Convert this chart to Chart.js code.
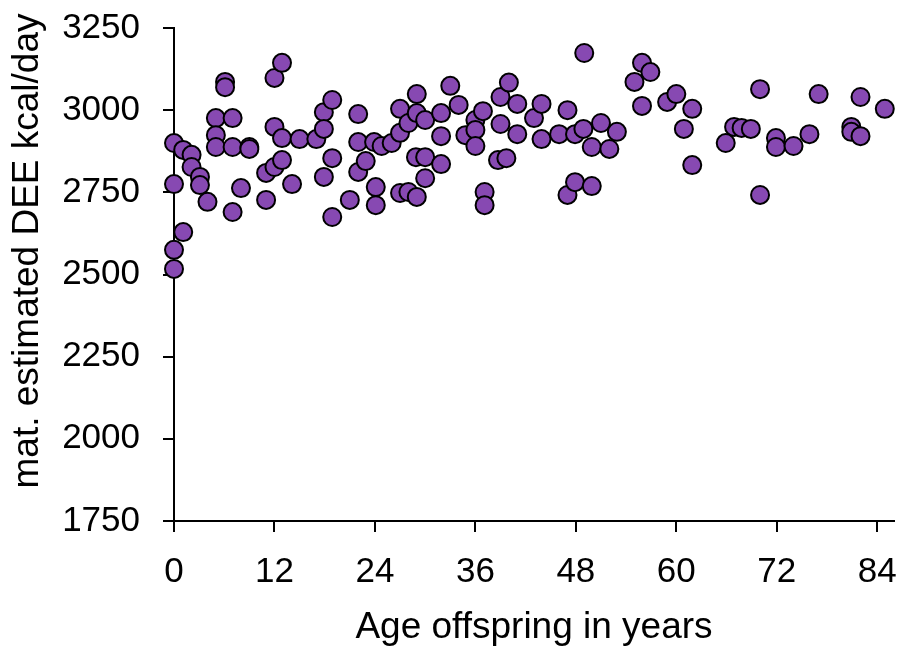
<!DOCTYPE html>
<html>
<head>
<meta charset="utf-8">
<script src="https://cdn.jsdelivr.net/npm/chart.js@4.4.1/dist/chart.umd.min.js"></script>
<style>
  html, body { margin: 0; padding: 0; background: #fff; }
  #wrap { width: 905px; height: 646px; }
</style>
</head>
<body>
<div id="wrap"><canvas id="chart-dee"></canvas></div>
<script>
// offspring age (years) and maternal estimated DEE (kcal/day)
const ageYears = [
    0, 0, 0, 0, 1.1, 1.1, 2.1, 2.1, 3.1, 3.1, 4.0, 5.0, 5.0, 5.0, 6.1, 6.1,
    7.0, 7.0, 7.0, 8.0, 9.0, 9.0, 11.0, 11.0, 12.0, 12.0, 12.0, 12.9, 12.9, 12.9,
    14.1, 15.0, 17.0, 17.9, 17.9, 17.9, 18.9, 18.9, 18.9, 21.0, 22.0, 22.0, 22.0,
    22.9, 23.9, 24.1, 24.1, 24.8, 26.0, 27.0, 27.0, 27.0, 28.0, 28.0, 28.9,
    29.0, 29.0, 29.0, 30.0, 30.0, 30.0, 31.9, 31.9, 31.9, 33.0, 34.0, 34.8,
    36.0, 36.0, 36.0, 36.9, 37.1, 37.1, 38.7, 39.0, 39.0, 39.7, 40.0, 41.0, 41.0,
    43.0, 43.9, 43.9, 46.0, 47.0, 47.0, 47.9, 47.9, 48.9, 49.0, 49.9, 49.9,
    51.0, 52.0, 52.9, 55.0, 55.9, 55.9, 56.9, 58.9, 60.0, 60.9, 61.9, 61.9,
    65.9, 66.9, 67.8, 68.9, 70.0, 70.0, 71.9, 71.9, 74.0, 75.9, 77.0,
    80.9, 80.9, 82.0, 82.0, 84.9
];
const deeKcal = [
    2900, 2775, 2575, 2517, 2879, 2629, 2864, 2827, 2797, 2772, 2721, 2976, 2924, 2888, 3086, 3070,
    2976, 2888, 2690, 2763, 2888, 2882, 2809, 2727, 3098, 2949, 2827, 3144, 2915, 2848,
    2775, 2912, 2912, 2994, 2943, 2797, 3031, 2854, 2675, 2727, 2988, 2903, 2812,
    2845, 2903, 2766, 2711, 2891, 2900, 3004, 2931, 2748, 2961, 2751, 2857,
    3049, 2991, 2736, 2970, 2857, 2793, 2991, 2921, 2836, 3074, 3016, 2924,
    2970, 2940, 2891, 2997, 2751, 2711, 2848, 3040, 2958, 2854, 3084, 3019, 2927,
    2976, 3019, 2912, 2927, 3000, 2742, 2927, 2781, 2943, 3174, 2888, 2769,
    2961, 2882, 2934, 3086, 3144, 3013, 3116, 3025, 3049, 2943, 3004, 2833,
    2900, 2949, 2946, 2943, 3064, 2742, 2915, 2888, 2891, 2927, 3049,
    2949, 2934, 3040, 2921, 3004
];
const xTickValues = [0, 12, 24, 36, 48, 60, 72, 84];
const yTickValues = [1750, 2000, 2250, 2500, 2750, 3000, 3250];

const xTitle = 'Age offspring in years';
const yTitle = 'mat. estimated DEE kcal/day';

const fontFamily = '"Liberation Sans", Arial, sans-serif';

// axis titles drawn by hand so they sit where the original puts them
const axisTitlePlugin = {
    id: 'axisTitles',
    afterDraw(chart) {
        const ctx = chart.ctx;
        const area = chart.chartArea;
        ctx.save();
        ctx.font = '37px ' + fontFamily;
        ctx.fillStyle = '#000';
        ctx.textAlign = 'center';
        ctx.textBaseline = 'alphabetic';
        ctx.fillText(xTitle, (area.left + area.right) / 2, 638);
        ctx.translate(38, 251);
        ctx.rotate(-Math.PI / 2);
        ctx.fillText(yTitle, 0, 0);
        ctx.restore();
    }
};

const points = ageYears.map((age, i) => ({ x: age, y: deeKcal[i] }));

new Chart(document.getElementById('chart-dee'), {
    type: 'scatter',
    data: {
        datasets: [{
            data: points,
            backgroundColor: '#8749b2',
            borderColor: '#000',
            borderWidth: 2,
            pointRadius: 9,
            pointHoverRadius: 9,
            clip: false
        }]
    },
    options: {
        responsive: true,
        maintainAspectRatio: false,
        animation: false,
        events: [],
        layout: {
            padding: { top: 28, right: 4, left: 0, bottom: 0 }
        },
        plugins: {
            legend: { display: false },
            tooltip: { enabled: false }
        },
        scales: {
            x: {
                type: 'linear',
                min: 0,
                max: 86,
                afterBuildTicks: axis => { axis.ticks = xTickValues.map(v => ({ value: v })); },
                afterFit: axis => {
                    axis.height = 125;
                    axis.paddingLeft = 0;
                    axis.paddingRight = 0;
                },
                grid: { drawOnChartArea: false, tickLength: 11, color: '#000', lineWidth: 2 },
                border: { color: '#000', width: 2 },
                ticks: {
                    color: '#000',
                    padding: 19,
                    font: { family: fontFamily, size: 35 },
                    callback: v => String(v)
                }
            },
            y: {
                type: 'linear',
                min: 1750,
                max: 3250,
                afterBuildTicks: axis => { axis.ticks = yTickValues.map(v => ({ value: v })); },
                afterFit: axis => {
                    axis.width = 174;
                    axis.paddingTop = 0;
                    axis.paddingBottom = 0;
                },
                grid: { drawOnChartArea: false, tickLength: 11, color: '#000', lineWidth: 2 },
                border: { color: '#000', width: 2 },
                ticks: {
                    color: '#000',
                    padding: 23,
                    font: { family: fontFamily, size: 35 },
                    callback: v => String(v)
                }
            }
        }
    },
    plugins: [axisTitlePlugin]
});
</script>
</body>
</html>
